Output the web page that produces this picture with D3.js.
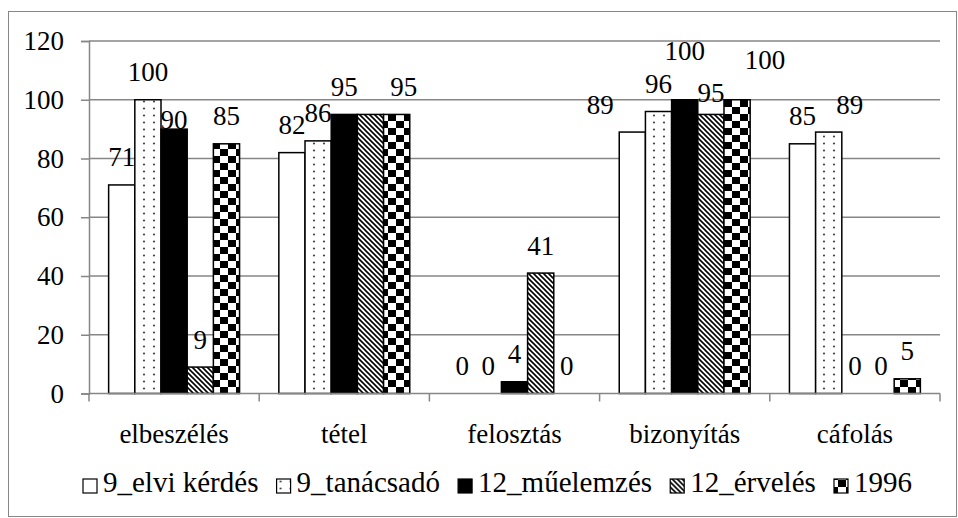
<!DOCTYPE html>
<html>
<head>
<meta charset="utf-8">
<script src="https://cdn.jsdelivr.net/npm/d3@7"></script>
<style>
  html, body { margin: 0; padding: 0; background: #fff; }
  svg { display: block; }
</style>
</head>
<body>
<svg id="chart" width="958" height="518"></svg>
<script>
// Categories (text types) and series (groups of essays)
const categories = ["elbeszélés", "tétel", "felosztás", "bizonyítás", "cáfolás"];
const seriesNames = ["9_elvi kérdés", "9_tanácsadó", "12_műelemzés", "12_érvelés", "1996"];

// Percentages per series, in category order
const elviKerdes = [71, 82, 0, 89, 85];
const tanacsado  = [100, 86, 0, 96, 89];
const muelemzes  = [90, 95, 4, 100, 0];
const erveles    = [9, 95, 41, 95, 0];
const ev1996     = [85, 95, 0, 100, 5];

const yTicks = [0, 20, 40, 60, 80, 100, 120];

const seriesValues = [elviKerdes, tanacsado, muelemzes, erveles, ev1996];

// Data labels that are moved off their default spot, and the one left out
const labelNudge = {
  "elbeszélés|12_műelemzés": { dx: 0, dy: 18 },
  "tétel|1996": { dx: 7, dy: 0 },
  "bizonyítás|9_elvi kérdés": { dx: -32, dy: 0 },
  "bizonyítás|12_műelemzés": { dx: 0, dy: -21 },
  "bizonyítás|12_érvelés": { dx: 0, dy: 6 },
  "bizonyítás|1996": { dx: 28, dy: -12 },
  "cáfolás|9_tanácsadó": { dx: 21, dy: 0 }
};
const hiddenLabels = new Set(["tétel|12_érvelés"]);

const FAMILY = '"Liberation Serif"';
const FONT = "27px";
const LEGEND_FONT = "29px";
const grey = "#868686";

const svg = d3.select("#chart");

function styleText(sel, size) {
  return sel.style("font-family", FAMILY).style("font-size", size || FONT).attr("fill", "#000");
}

// Outer frame
svg.append("rect")
  .attr("x", 8.5).attr("y", 11.5)
  .attr("width", 948).attr("height", 505)
  .attr("fill", "#fff").attr("stroke", grey).attr("stroke-width", 1);

// Fill patterns
const defs = svg.append("defs");

const dots = defs.append("pattern").attr("id", "p-dots")
  .attr("patternUnits", "userSpaceOnUse").attr("width", 10).attr("height", 7);
dots.append("rect").attr("width", 10).attr("height", 7).attr("fill", "#fff");
dots.append("circle").attr("cx", 4).attr("cy", 3.5).attr("r", 1.1).attr("fill", "#444");

const diag = defs.append("pattern").attr("id", "p-diag")
  .attr("patternUnits", "userSpaceOnUse").attr("width", 5).attr("height", 5);
diag.append("rect").attr("width", 5).attr("height", 5).attr("fill", "#fff");
diag.append("path").attr("d", "M-1,-1 L6,6 M-1,4 L1,6 M4,-1 L6,1")
  .attr("stroke", "#000").attr("stroke-width", 1.6);

const check = defs.append("pattern").attr("id", "p-check")
  .attr("patternUnits", "userSpaceOnUse").attr("width", 16).attr("height", 14)
  .attr("x", 4).attr("y", 2);
check.append("rect").attr("width", 16).attr("height", 14).attr("fill", "#fff");
check.append("rect").attr("x", 0).attr("y", 0).attr("width", 8).attr("height", 7).attr("fill", "#000");
check.append("rect").attr("x", 8).attr("y", 7).attr("width", 8).attr("height", 7).attr("fill", "#000");

const fills = ["#fff", "url(#p-dots)", "#000", "url(#p-diag)", "url(#p-check)"];

// Plot area
const plot = { left: 89, right: 940, top: 41, bottom: 393.5 };

const x0 = d3.scaleBand().domain(categories).range([plot.left, plot.right]).padding(0);
const x1 = d3.scaleBand().domain(seriesNames).range([0, x0.bandwidth()])
  .paddingInner(0).paddingOuter(0.75);
const y = d3.scaleLinear().domain([0, 120]).range([plot.bottom, plot.top]);

// Horizontal gridlines
svg.append("g").selectAll("line").data(yTicks.filter(d => d > 0)).join("line")
  .attr("x1", plot.left).attr("x2", plot.right)
  .attr("y1", d => y(d)).attr("y2", d => y(d))
  .attr("stroke", grey).attr("stroke-width", 1.5);

// Y axis
const yAxis = svg.append("g").attr("transform", `translate(${plot.left},0)`)
  .call(d3.axisLeft(y).tickValues(yTicks).tickSize(8).tickPadding(17));
yAxis.attr("font-family", null).attr("font-size", null);
yAxis.select(".domain").attr("stroke", grey).attr("stroke-width", 1.5);
yAxis.selectAll(".tick line").attr("stroke", grey).attr("stroke-width", 1.5);
styleText(yAxis.selectAll(".tick text"));

// Bars
const bars = [];
categories.forEach((c, ci) => {
  seriesNames.forEach((s, si) => {
    bars.push({ cat: c, series: s, si, value: seriesValues[si][ci] });
  });
});

svg.append("g").selectAll("rect").data(bars.filter(d => d.value > 0)).join("rect")
  .attr("x", d => x0(d.cat) + x1(d.series))
  .attr("y", d => y(d.value))
  .attr("width", x1.bandwidth())
  .attr("height", d => y(0) - y(d.value))
  .attr("fill", d => fills[d.si])
  .attr("stroke", "#000").attr("stroke-width", 1.5);

// X axis
const xAxis = svg.append("g").attr("transform", `translate(0,${plot.bottom})`);
xAxis.append("line").attr("x1", plot.left).attr("x2", plot.right)
  .attr("stroke", grey).attr("stroke-width", 1.5);
const catEdges = categories.map(c => x0(c)).concat([plot.right]);
xAxis.selectAll("line.tick").data(catEdges).join("line").attr("class", "tick")
  .attr("x1", d => d).attr("x2", d => d).attr("y1", 0).attr("y2", 8)
  .attr("stroke", grey).attr("stroke-width", 1.5);
styleText(xAxis.selectAll("text").data(categories).join("text"))
  .attr("x", d => x0(d) + x0.bandwidth() / 2)
  .attr("y", 49)
  .attr("text-anchor", "middle")
  .text(d => d);

// Value labels
styleText(svg.append("g").selectAll("text")
  .data(bars.filter(d => !hiddenLabels.has(d.cat + "|" + d.series)))
  .join("text"))
  .attr("x", d => x0(d.cat) + x1(d.series) + x1.bandwidth() / 2 + ((labelNudge[d.cat + "|" + d.series] || {}).dx || 0))
  .attr("y", d => y(d.value) - 18.5 + ((labelNudge[d.cat + "|" + d.series] || {}).dy || 0))
  .attr("text-anchor", "middle")
  .text(d => d.value);

// Legend: one row under the axis
const legend = svg.append("g");
const items = legend.selectAll("g").data(seriesNames).join("g");
const marker = 14, textOffset = 20;
items.append("rect")
  .attr("y", -13)
  .attr("width", marker).attr("height", marker)
  .attr("fill", (d, i) => fills[i])
  .attr("stroke", "#000").attr("stroke-width", 1.2);
styleText(items.append("text"), LEGEND_FONT)
  .attr("x", textOffset).attr("y", 0)
  .text(d => d);
const widths = [];
items.each(function () {
  widths.push(textOffset + d3.select(this).select("text").node().getComputedTextLength());
});
const legendLeft = 83, legendRight = 912;
const gap = (legendRight - legendLeft - d3.sum(widths)) / (seriesNames.length - 1);
let cx = legendLeft;
items.attr("transform", (d, i) => {
  const t = `translate(${cx},492)`;
  cx += widths[i] + gap;
  return t;
});
</script>
</body>
</html>
